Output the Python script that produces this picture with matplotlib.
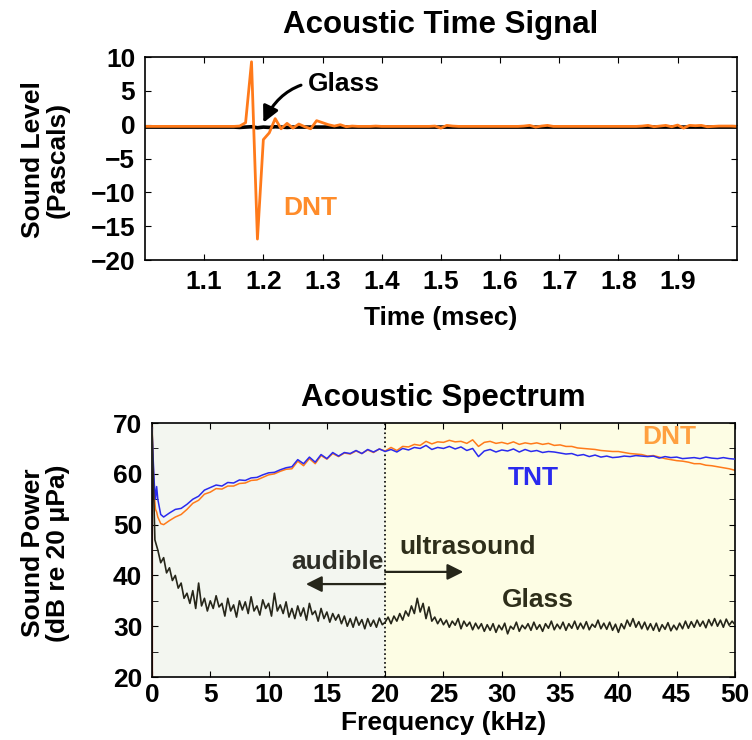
import numpy as np
import matplotlib
matplotlib.use("Agg")
import matplotlib.pyplot as plt

plt.rcParams['font.family'] = ['Liberation Sans', 'DejaVu Sans']
plt.rcParams['font.weight'] = 'bold'

# --- acoustic time signal (msec, Pascals), sampled every 0.01 ms ---
t_ms = np.linspace(1.0, 2.0, 101)
dnt_sig = [-0.25, -0.25, -0.25, -0.25, -0.25, -0.25, -0.25, -0.25, -0.25, -0.25,
           -0.25, -0.25, -0.25, -0.25, -0.25, -0.25, -0.2, 0.3, 9.3, -16.9,
           -2.2, -1.2, 0.9, -0.6, 0.2, -0.5, 0.1, -0.3, -0.6, 0.6,
           0.3, 0.0, -0.2, 0.0, -0.3, -0.2, -0.25, -0.25, -0.25, -0.2,
           -0.25, -0.25, -0.25, -0.25, -0.25, -0.25, -0.25, -0.25, -0.25, -0.2,
           -0.5, -0.1, -0.2, -0.25, -0.25, -0.25, -0.25, -0.25, -0.25, -0.25,
           -0.25, -0.25, -0.25, -0.25, -0.2, -0.1, -0.35, -0.2, -0.1, -0.25,
           -0.25, -0.25, -0.25, -0.25, -0.25, -0.25, -0.25, -0.25, -0.25, -0.25,
           -0.25, -0.25, -0.25, -0.25, -0.2, -0.1, -0.3, -0.2, -0.1, -0.3,
           -0.05, -0.5, -0.1, -0.15, -0.1, -0.3, -0.25, -0.2, -0.2, -0.2, -0.25]
glass_sig = [-0.35] * 16 + [-0.4, -0.35, -0.3, -0.45, -0.35, -0.4, -0.3, -0.35, -0.4, -0.35] + [-0.35] * 75

# --- acoustic spectrum (kHz, dB re 20 uPa) ---
f_exp = [0, 0.1, 0.2, 0.3, 0.4, 0.5, 0.75, 1.0, 1.5, 2.0, 2.5, 3.0, 3.5, 4.0, 4.5,
         5.0, 5.5, 6.0, 6.5, 7.0, 7.5, 8.0, 8.5, 9.0, 9.5, 10.0, 10.5, 11.0, 11.5,
         12.0, 12.5, 13.0, 13.5, 14.0, 14.5, 15.0, 15.5, 16.0, 16.5, 17.0, 17.5,
         18.0, 18.5, 19.0, 19.5, 20.0, 20.5, 21.0, 21.5, 22.0, 22.5, 23.0, 23.5,
         24.0, 24.5, 25.0, 25.5, 26.0, 26.5, 27.0, 27.5, 28.0, 28.5, 29.0, 29.5,
         30.0, 30.5, 31.0, 31.5, 32.0, 32.5, 33.0, 33.5, 34.0, 34.5, 35.0, 35.5,
         36.0, 36.5, 37.0, 37.5, 38.0, 38.5, 39.0, 39.5, 40.0, 40.5, 41.0, 41.5,
         42.0, 42.5, 43.0, 43.5, 44.0, 44.5, 45.0, 45.5, 46.0, 46.5, 47.0, 47.5,
         48.0, 48.5, 49.0, 49.5, 50.0]
tnt_db = [69, 63, 58, 55, 57.5, 55, 52, 51.5, 52.3, 53.0, 53.2, 54.0, 55.0, 55.6, 56.8,
          57.3, 57.8, 57.6, 58.3, 58.2, 58.8, 58.7, 59.2, 59.3, 59.8, 60.2, 60.3, 60.8, 61.2,
          61.4, 62.8, 62.0, 63.3, 62.3, 63.8, 63.0, 64.2, 63.5, 64.2, 64.0, 64.6,
          64.0, 64.8, 64.3, 64.9, 64.4, 64.8, 64.3, 65.0, 64.7, 65.2, 65.0, 65.6,
          64.8, 65.2, 65.0, 65.4, 64.9, 65.3, 64.6, 65.0, 63.4, 64.5, 64.8, 64.3,
          64.7, 64.5, 64.9, 64.3, 64.8, 64.4, 64.6, 64.2, 64.4, 64.3, 64.1, 63.9,
          64.0, 63.6, 63.8, 63.4, 63.7, 63.3, 63.5, 63.2, 63.3, 63.5, 63.4, 63.6,
          63.5, 63.4, 63.5, 63.1, 63.4, 63.2, 63.3, 63.0, 63.1, 63.2, 63.0, 63.3,
          63.1, 63.0, 63.2, 63.0, 62.9]
dnt_db = [69.5, 62, 56, 53, 52.5, 51.5, 50.2, 50.0, 50.8, 51.5, 52.0, 53.0, 54.2, 54.8, 56.0,
          56.4, 57.1, 57.0, 57.6, 57.6, 58.1, 58.2, 58.7, 58.8, 59.3, 59.8, 60.0, 60.5, 60.9,
          61.0, 62.5, 61.6, 63.0, 62.0, 63.6, 62.9, 64.0, 63.4, 64.1, 63.9, 64.5,
          64.0, 64.7, 64.2, 64.9, 64.5, 65.2, 64.6, 65.4, 65.3, 65.8, 65.6, 66.4,
          65.9, 66.3, 66.2, 66.6, 66.3, 66.4, 66.0, 66.7, 65.4, 66.2, 66.4, 66.0,
          66.2, 65.9, 66.3, 65.8, 66.1, 65.9, 66.1, 65.8, 66.0, 65.6, 65.7, 65.4,
          65.4, 65.1, 65.0, 64.9, 64.8, 64.6, 64.5, 64.4, 64.4, 64.2, 64.0, 63.9,
          63.8, 63.5, 63.6, 63.3, 63.0, 62.8, 62.6, 62.5, 62.3, 62.0, 62.0, 61.7,
          61.6, 61.4, 61.2, 61.0, 60.7]
# DC bin seen as the dark red vertical stroke on the left edge
dc_f = [0, 0]
dc_db = [15, 69]

f_glass = np.linspace(0, 50, 201)
glass_db = [69, 47, 45, 42.5, 43.5, 40.5, 41.5, 39, 40, 37.5, 38.5, 35.5, 36.5, 34.5, 37, 33.5,
            38.5, 34, 35.5, 33, 35, 33.5, 36, 33.8, 34.5, 32, 35.5, 33, 34.2, 31.8, 35, 33.2,
            34.8, 32.5, 35.8, 33, 34, 32.2, 35.2, 33.5, 34.5, 32, 36.5, 33, 34.2, 32.5, 34.8, 31.8,
            33.5, 31.5, 34, 32, 33.6, 31.2, 34.5, 32.3, 33, 31, 33.5, 31.5, 32.8, 30.8, 32.5, 31.2,
            32.3, 30.5, 32, 30, 31.5, 29.8, 31.8, 30.2, 31.3, 29.5, 31.5, 30, 31.2, 29.8, 31.6, 30.3,
            30.8, 31.8, 30.5, 32, 31, 32.5, 31.2, 33, 32, 34, 32.5, 35.5, 32.8, 34.5, 31.5, 33.8,
            31, 31.8, 30.5, 31.5, 30.3, 31.2, 29.8, 31, 30.2, 31.5, 29.5, 31, 30, 30.8, 29.3, 30.6,
            29.5, 30.5, 29, 30.3, 29.2, 30.5, 28.8, 30.2, 29.3, 30.6, 28.5, 30, 29.4, 30.8, 29, 30.2,
            29.5, 30.5, 29.2, 30.8, 29.4, 30.3, 29, 30.5, 29.6, 31, 29.3, 30.4, 29.5, 30.8, 29.2, 30.5,
            29.6, 31, 29.4, 30.6, 29.5, 30.9, 29.3, 30.4, 29.8, 31.2, 29.5, 30.6, 29.4, 30.8, 29.2, 30.4,
            28.8, 30.5, 29.5, 31.2, 30, 31.5, 29.8, 30.9, 29.5, 30.8, 29.3, 30.5, 29.2, 30.6, 29, 30.3,
            29.4, 30.7, 29.1, 30.2, 29.3, 30.6, 29.5, 31, 29.6, 30.9, 29.8, 31.2, 30, 31, 29.7, 31.3,
            30.1, 31.5, 30, 31.2, 29.8, 31.4, 30.2, 31, 30.3]

orange = '#ff7a1a'
blue = '#2a2aee'
dark = '#26261a'

TITLE = 22.5
LABEL = 19
TICK = 19
NOTE = 19

fig = plt.figure(figsize=(7.52, 7.4), dpi=100)

# ---------------- top panel ----------------
ax1 = fig.add_axes([0.1928, 0.6486, 0.787, 0.2743])
ax1.plot(t_ms, glass_sig, color='black', lw=2.6)
ax1.plot(t_ms, dnt_sig, color=orange, lw=2.0)
ax1.set_xlim(1.0, 2.0)
ax1.set_ylim(-20, 10)
ax1.set_xticks([1.1, 1.2, 1.3, 1.4, 1.5, 1.6, 1.7, 1.8, 1.9])
ax1.set_yticks([-20, -15, -10, -5, 0, 5, 10])
ax1.set_title('Acoustic Time Signal', fontsize=TITLE, fontweight='bold', pad=17)
ax1.set_xlabel('Time (msec)', fontsize=LABEL, fontweight='bold', labelpad=9)
ax1.annotate('Glass', xy=(1.2, 0.3), xytext=(1.275, 6.0), fontsize=NOTE, fontweight='bold',
             ha='left', va='center',
             arrowprops=dict(arrowstyle='-|>', color='black', lw=2.2, mutation_scale=24,
                             connectionstyle='arc3,rad=0.4', shrinkA=3, shrinkB=0))
ax1.text(1.28, -12.3, 'DNT', color='#ff8c2a', fontsize=NOTE, fontweight='bold', ha='center', va='center')

# ---------------- bottom panel ----------------
ax2 = fig.add_axes([0.2021, 0.0851, 0.7753, 0.3432])
ax2.axvspan(0, 20, color='#f3f6f0', zorder=0)
ax2.axvspan(20, 50, color='#fdfde4', zorder=0)
ax2.axvline(20, color='black', ls=':', lw=1.2, zorder=1)
ax2.plot(dc_f, dc_db, color='#a03020', lw=1.6, zorder=2)
ax2.plot(f_exp, dnt_db, color=orange, lw=1.1, zorder=2)
ax2.plot(f_exp, tnt_db, color=blue, lw=1.1, zorder=3)
ax2.plot(f_glass, glass_db, color=dark, lw=1.2, zorder=4)
ax2.set_xlim(0, 50)
ax2.set_ylim(20, 70)
ax2.set_xticks(range(0, 51, 5))
ax2.set_yticks(range(20, 71, 10))
ax2.set_yticks(range(20, 71, 5), minor=True)
ax2.set_title('Acoustic Spectrum', fontsize=TITLE, fontweight='bold', pad=12)
ax2.set_xlabel('Frequency (kHz)', fontsize=LABEL, fontweight='bold', labelpad=3)

ax2.annotate('', xy=(13.2, 38.3), xytext=(20, 38.3),
             arrowprops=dict(arrowstyle='-|>', color=dark, lw=1.6, mutation_scale=24,
                             shrinkA=0, shrinkB=0))
ax2.annotate('', xy=(26.7, 40.7), xytext=(20, 40.7),
             arrowprops=dict(arrowstyle='-|>', color=dark, lw=1.6, mutation_scale=24,
                             shrinkA=0, shrinkB=0))
ax2.text(15.9, 42.6, 'audible', color='#2e2e26', fontsize=NOTE, fontweight='bold', ha='center', va='center')
ax2.text(27.1, 45.6, 'ultrasound', color='#2e2e1a', fontsize=NOTE, fontweight='bold', ha='center', va='center')
ax2.text(33.1, 35.2, 'Glass', color='#2e2e1a', fontsize=NOTE, fontweight='bold', ha='center', va='center')
ax2.text(44.4, 67.2, 'DNT', color='#ffa040', fontsize=NOTE, fontweight='bold', ha='center', va='center')
ax2.text(32.7, 59.2, 'TNT', color=blue, fontsize=NOTE, fontweight='bold', ha='center', va='center')

for ax in (ax1, ax2):
    ax.tick_params(which='both', direction='in', top=True, right=True, labelsize=TICK, pad=7)
    ax.tick_params(which='major', length=4)
    ax.tick_params(which='minor', length=4)
    for lab in ax.get_xticklabels() + ax.get_yticklabels():
        lab.set_fontweight('bold')
    for s in ax.spines.values():
        s.set_linewidth(1.2)
ax2.tick_params(axis='x', pad=4)

fig.text(0.06, 0.784, 'Sound Level\n(Pascals)', rotation=90, fontsize=LABEL, fontweight='bold',
         ha='center', va='center', linespacing=1.05)
fig.text(0.06, 0.253, 'Sound Power\n(dB re 20 \u03bcPa)', rotation=90, fontsize=LABEL, fontweight='bold',
         ha='center', va='center', linespacing=1.05)

fig.savefig('out.png', dpi=100)
